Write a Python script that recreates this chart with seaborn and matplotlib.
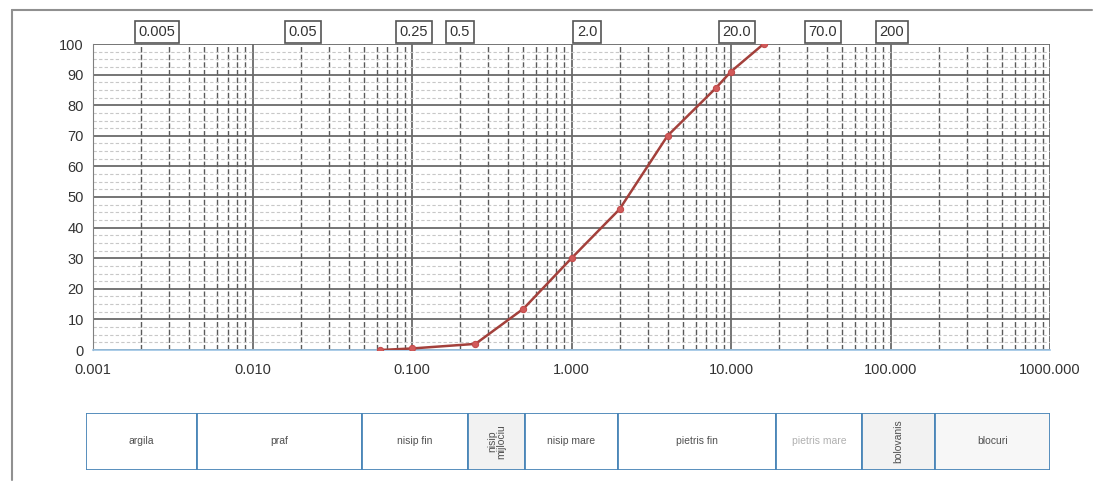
import numpy as np
import pandas as pd
import matplotlib.pyplot as plt
import matplotlib.ticker as mticker
import seaborn as sns

# grain size curve (mm, % passing)
size_mm = [0.063, 0.1, 0.25, 0.5, 1.0, 2.0, 4.0, 8.0, 10.0, 16.0]
passing = [0.0, 0.5, 2.0, 13.5, 30.0, 46.0, 70.0, 85.5, 91.0, 100.0]

x_ticks = [0.001, 0.01, 0.1, 1, 10, 100, 1000]
x_tick_labels = ['0.001', '0.010', '0.100', '1.000', '10.000', '100.000', '1000.000']
y_ticks = list(range(0, 101, 10))

limit_labels = ['0.005', '0.05', '0.25', '0.5', '2.0', '20.0', '70.0', '200']
fractions = ['argila', 'praf', 'nisip fin', 'nisip\nmijlociu', 'nisip mare',
             'pietris fin', 'pietris mare', 'bolovanis', 'blocuri']

# layout (figure pixels)
label_px = [157, 303, 414, 460, 587, 737, 823, 892]
strip_px = [86, 197, 362, 468, 525, 618, 776, 862, 935, 1050]

W, H = 1098, 484
sns.set_style('white')
plt.rcParams['font.family'] = ['Liberation Sans', 'DejaVu Sans']

fig = plt.figure(figsize=(W / 100, H / 100), dpi=100)
ax = fig.add_axes([93 / W, 1 - 350 / H, (1050 - 93) / W, (350 - 44) / H])

df = pd.DataFrame({'d': size_mm, 'p': passing})
sns.lineplot(data=df, x='d', y='p', ax=ax, color='#a3403b', lw=1.8,
             marker='o', markersize=4.5, markerfacecolor='#d25a5a',
             markeredgecolor='#c24a4a', zorder=5)

ax.set_xscale('log')
ax.set_xlim(0.001, 1000)
ax.set_ylim(0, 100)
ax.set_xticks(x_ticks)
ax.set_xticklabels(x_tick_labels)
ax.set_yticks(y_ticks)
ax.xaxis.set_minor_locator(mticker.LogLocator(base=10, subs=np.arange(2, 10)))
ax.xaxis.set_minor_formatter(mticker.NullFormatter())
ax.yaxis.set_minor_locator(mticker.MultipleLocator(2.5))
ax.set_xlabel('')
ax.set_ylabel('')

ax.grid(True, which='major', axis='both', color='#6a6a6a', lw=1.3)
ax.grid(True, which='minor', axis='x', color='#5a5a5a', lw=1.0, ls=(0, (4, 1.5)))
ax.grid(True, which='minor', axis='y', color='#c8c8c8', lw=0.8, ls=(0, (3, 2)))
ax.set_axisbelow(True)

for s in ['top', 'right']:
    ax.spines[s].set_visible(False)
ax.spines['left'].set_color('#808080')
ax.spines['bottom'].set_color('#9cc4e4')
ax.spines['bottom'].set_linewidth(1.2)
ax.tick_params(axis='both', which='major', labelsize=10.5, colors='#333333',
               length=3, width=0.8)
ax.tick_params(axis='x', which='major', pad=6)
ax.tick_params(axis='x', which='minor', length=2, color='#888888')
ax.tick_params(axis='y', which='minor', length=0)

# limit boxes above the plot
for txt, px in zip(limit_labels, label_px):
    fig.text(px / W, 1 - 32 / H, txt, ha='center', va='center', fontsize=10.5,
             color='#333333',
             bbox=dict(boxstyle='square,pad=0.25', fc='white', ec='#555555', lw=1.2))

# fraction strip
sax = fig.add_axes([strip_px[0] / W, 1 - 470 / H, (strip_px[-1] - strip_px[0]) / W, 57 / H])
lefts = strip_px[:-1]
widths = np.diff(strip_px)
fills = ['white', 'white', 'white', '#f2f2f2', 'white', 'white', 'white', '#f2f2f2', '#f7f7f7']
sax.barh([0] * len(lefts), widths, left=lefts, height=1, color=fills,
         edgecolor='#4a86b8', linewidth=1.3)
sax.set_xlim(strip_px[0], strip_px[-1])
sax.set_ylim(-0.5, 0.5)
sax.axis('off')
for i, name in enumerate(fractions):
    cx = lefts[i] + widths[i] / 2
    rot = 90 if i in (3, 7) else 0
    col = '#b0b0b0' if name == 'pietris mare' else '#505050'
    sax.text(cx, 0, name, ha='center', va='center', fontsize=7.5, color=col,
             rotation=rot, linespacing=0.9)

# scan frame
fig.add_artist(plt.Line2D([12 / W, 1092 / W], [1 - 10 / H, 1 - 10 / H],
                          color='#909090', lw=1.5))
fig.add_artist(plt.Line2D([12 / W, 12 / W], [1 - 10 / H, 1 - 480 / H],
                          color='#909090', lw=1.5))

fig.savefig('out.png', dpi=100)
